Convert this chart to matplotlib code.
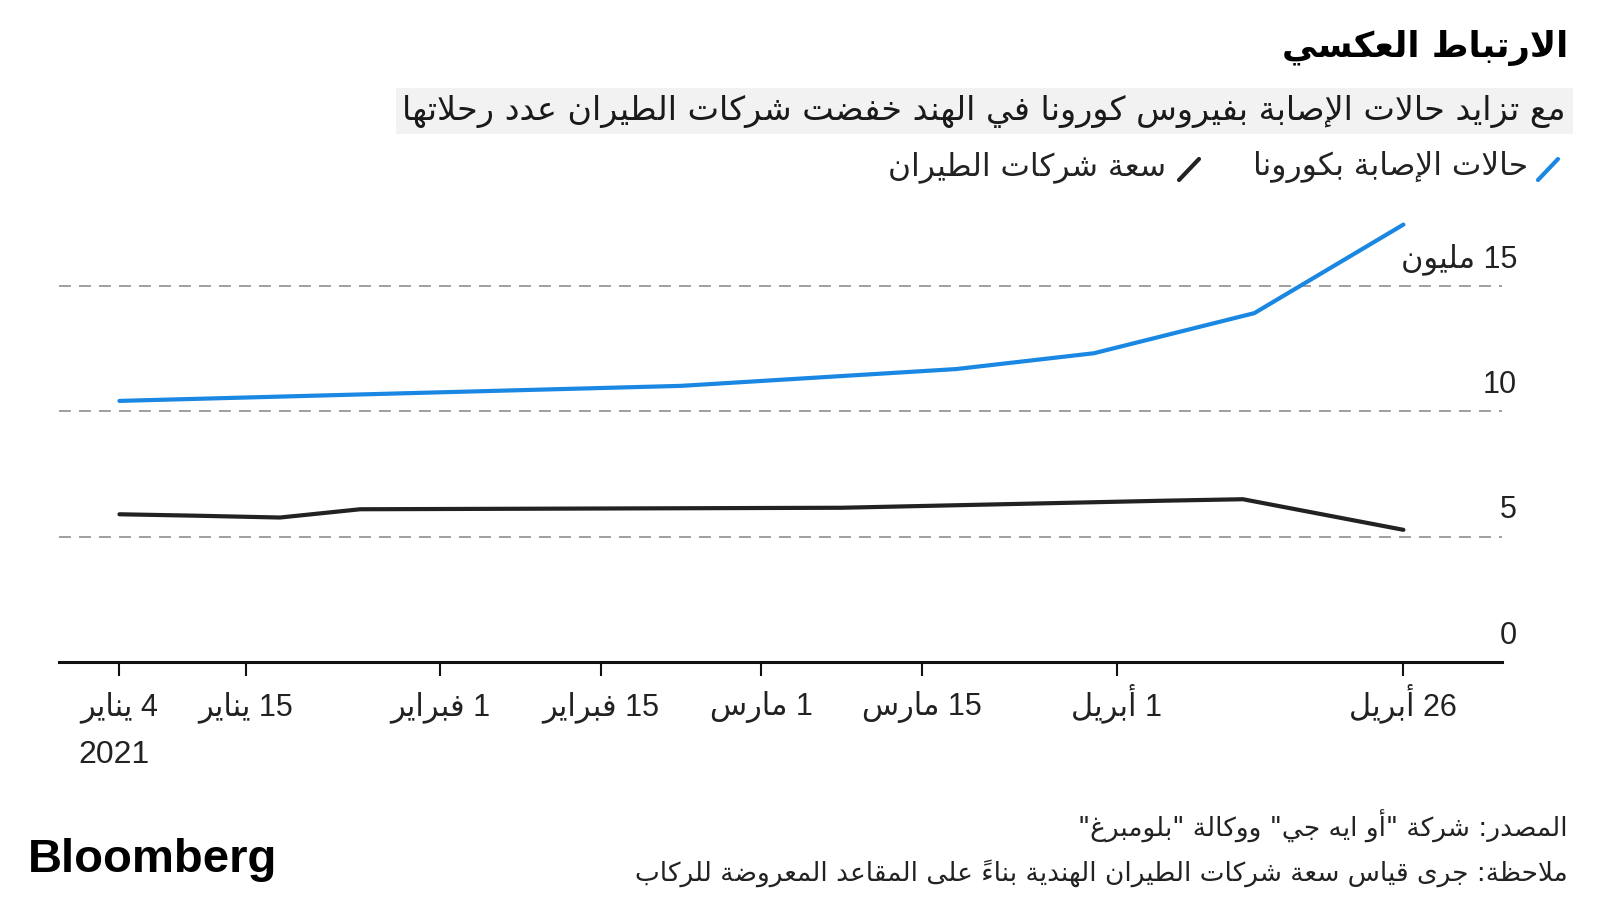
import matplotlib

matplotlib.use("Agg")
import matplotlib.pyplot as plt
import matplotlib.dates as mdates
import matplotlib.transforms as mtransforms
from matplotlib.lines import Line2D
import numpy as np

plt.rcParams.update({
    "font.family": ["DejaVu Sans"],
    "lines.scale_dashes": False,
    "axes.spines.top": False,
    "axes.spines.right": False,
    "axes.spines.left": False,
})

# ---- data ----
TITLE = "الارتباط العكسي"
SUBTITLE = "مع تزايد حالات الإصابة بفيروس كورونا في الهند خفضت شركات الطيران عدد رحلاتها"
LEGEND_CASES = "حالات الإصابة بكورونا"
LEGEND_SEATS = "سعة شركات الطيران"
SOURCE = 'المصدر: شركة "أو ايه جي" ووكالة "بلومبرغ"'
NOTE = "ملاحظة: جرى قياس سعة شركات الطيران الهندية بناءً على المقاعد المعروضة للركاب"

case_dates = ["2021-01-04", "2021-02-22", "2021-03-18", "2021-03-30", "2021-04-13", "2021-04-26"]
case_values = [10.41, 11.01, 11.68, 12.31, 13.91, 17.44]

seat_dates = ["2021-01-04", "2021-01-11", "2021-01-18", "2021-01-25", "2021-02-01",
              "2021-02-08", "2021-02-15", "2021-02-22", "2021-03-01", "2021-03-08",
              "2021-03-15", "2021-03-22", "2021-03-29", "2021-04-05", "2021-04-12",
              "2021-04-19", "2021-04-26"]
seat_values = [5.89, 5.83, 5.76, 6.09, 6.10, 6.11, 6.12, 6.13, 6.14, 6.15,
               6.22, 6.29, 6.36, 6.43, 6.49, 5.88, 5.27]

y_ticks = [0, 5, 10, 15]
y_tick_labels = ["0", "5", "10", "15 مليون"]
x_tick_dates = ["2021-01-04", "2021-01-15", "2021-02-01", "2021-02-15",
                "2021-03-01", "2021-03-15", "2021-04-01", "2021-04-26"]
x_tick_labels = ["4 يناير", "15 يناير", "1 فبراير", "15 فبراير",
                 "1 مارس", "15 مارس", "1 أبريل", "26 أبريل"]
YEAR_LABEL = "2021"

BLUE = "#1a87e2"
DARK = "#222222"
GRID = "#8f8f8f"

# ---- minimal Arabic shaping + right-to-left ordering (no raqm in matplotlib) ----
FORMS = {
    "\u0621": ("\uFE80", None, None, None),
    "\u0622": ("\uFE81", "\uFE82", None, None),
    "\u0623": ("\uFE83", "\uFE84", None, None),
    "\u0624": ("\uFE85", "\uFE86", None, None),
    "\u0625": ("\uFE87", "\uFE88", None, None),
    "\u0626": ("\uFE89", "\uFE8A", "\uFE8B", "\uFE8C"),
    "\u0627": ("\uFE8D", "\uFE8E", None, None),
    "\u0628": ("\uFE8F", "\uFE90", "\uFE91", "\uFE92"),
    "\u0629": ("\uFE93", "\uFE94", None, None),
    "\u062A": ("\uFE95", "\uFE96", "\uFE97", "\uFE98"),
    "\u062B": ("\uFE99", "\uFE9A", "\uFE9B", "\uFE9C"),
    "\u062C": ("\uFE9D", "\uFE9E", "\uFE9F", "\uFEA0"),
    "\u062D": ("\uFEA1", "\uFEA2", "\uFEA3", "\uFEA4"),
    "\u062E": ("\uFEA5", "\uFEA6", "\uFEA7", "\uFEA8"),
    "\u062F": ("\uFEA9", "\uFEAA", None, None),
    "\u0630": ("\uFEAB", "\uFEAC", None, None),
    "\u0631": ("\uFEAD", "\uFEAE", None, None),
    "\u0632": ("\uFEAF", "\uFEB0", None, None),
    "\u0633": ("\uFEB1", "\uFEB2", "\uFEB3", "\uFEB4"),
    "\u0634": ("\uFEB5", "\uFEB6", "\uFEB7", "\uFEB8"),
    "\u0635": ("\uFEB9", "\uFEBA", "\uFEBB", "\uFEBC"),
    "\u0636": ("\uFEBD", "\uFEBE", "\uFEBF", "\uFEC0"),
    "\u0637": ("\uFEC1", "\uFEC2", "\uFEC3", "\uFEC4"),
    "\u0638": ("\uFEC5", "\uFEC6", "\uFEC7", "\uFEC8"),
    "\u0639": ("\uFEC9", "\uFECA", "\uFECB", "\uFECC"),
    "\u063A": ("\uFECD", "\uFECE", "\uFECF", "\uFED0"),
    "\u0641": ("\uFED1", "\uFED2", "\uFED3", "\uFED4"),
    "\u0642": ("\uFED5", "\uFED6", "\uFED7", "\uFED8"),
    "\u0643": ("\uFED9", "\uFEDA", "\uFEDB", "\uFEDC"),
    "\u0644": ("\uFEDD", "\uFEDE", "\uFEDF", "\uFEE0"),
    "\u0645": ("\uFEE1", "\uFEE2", "\uFEE3", "\uFEE4"),
    "\u0646": ("\uFEE5", "\uFEE6", "\uFEE7", "\uFEE8"),
    "\u0647": ("\uFEE9", "\uFEEA", "\uFEEB", "\uFEEC"),
    "\u0648": ("\uFEED", "\uFEEE", None, None),
    "\u0649": ("\uFEEF", "\uFEF0", None, None),
    "\u064A": ("\uFEF1", "\uFEF2", "\uFEF3", "\uFEF4"),
}
LAM_ALEF = {
    "\u0622": ("\uFEF5", "\uFEF6"),
    "\u0623": ("\uFEF7", "\uFEF8"),
    "\u0625": ("\uFEF9", "\uFEFA"),
    "\u0627": ("\uFEFB", "\uFEFC"),
}


def rtl(text):
    clusters = []
    for c in text:
        if "\u064B" <= c <= "\u065F" and clusters:
            clusters[-1][1] += c
        else:
            clusters.append([c, ""])

    shaped = []
    prev_connects = False
    i = 0
    while i < len(clusters):
        c, marks = clusters[i]
        nxt = clusters[i + 1][0] if i + 1 < len(clusters) else None
        if c not in FORMS:
            shaped.append((c, marks))
            prev_connects = False
            i += 1
            continue
        if c == "\u0644" and nxt in LAM_ALEF:
            iso, fin = LAM_ALEF[nxt]
            shaped.append((fin if prev_connects else iso, marks + clusters[i + 1][1]))
            prev_connects = False
            i += 2
            continue
        iso, fin, ini, med = FORMS[c]
        join_prev = prev_connects and fin is not None
        join_next = ini is not None and nxt in FORMS and FORMS[nxt][1] is not None
        if join_prev and join_next:
            glyph = med
        elif join_prev:
            glyph = fin
        elif join_next:
            glyph = ini
        else:
            glyph = iso
        shaped.append((glyph, marks))
        prev_connects = join_next
        i += 1

    # visual order: reverse RTL clusters, keep digit/latin runs as they are;
    # marks go before their base so they land on top of it
    tokens = []
    for base, marks in shaped:
        if base.isascii() and base.isalnum():
            if tokens and tokens[-1][0] == "ltr":
                tokens[-1][1] += base
            else:
                tokens.append(["ltr", base])
        else:
            tokens.append(["rtl", marks + base])
    return "".join(t[1] for t in reversed(tokens))


# ---- figure ----
W, H = 1600, 900
fig = plt.figure(figsize=(16, 9), dpi=100)


def fx(px):
    return px / W


def fy(py):
    return 1 - py / H


ax = fig.add_axes([fx(59), fy(662), fx(1502) - fx(59), fy(198) - fy(662)])

start = mdates.date2num(np.datetime64("2021-01-04"))
ax.set_xlim(start - 5.27, start + 120.6)
ax.set_ylim(0, 18.5)

for v in y_ticks[1:]:
    ax.axhline(v, color=GRID, lw=1.2, dashes=(8.6, 5.8), zorder=1)

ax.plot(np.array(seat_dates, dtype="datetime64[D]"), seat_values,
        color=DARK, lw=3.0, solid_joinstyle="miter", solid_capstyle="round", zorder=3)
ax.plot(np.array(case_dates, dtype="datetime64[D]"), case_values,
        color=BLUE, lw=3.0, solid_joinstyle="miter", solid_capstyle="round", zorder=4)

ax.set_yticks([])
ax.spines["bottom"].set_linewidth(2.2)
ax.spines["bottom"].set_color("#111111")

tick_pos = mdates.date2num(np.array(x_tick_dates, dtype="datetime64[D]"))
ax.set_xticks(tick_pos)
ax.set_xticklabels([rtl(s) for s in x_tick_labels], fontsize=22, color=DARK,
                   family=["Liberation Sans", "DejaVu Sans"])
ax.tick_params(axis="x", direction="out", length=10, width=1.5, color="#111111", pad=28.5)
for lab in ax.get_xticklabels():
    lab.set_verticalalignment("baseline")

ax.annotate(YEAR_LABEL, xy=(tick_pos[0], 0), xycoords=("data", "axes fraction"),
            xytext=(-4, -67), textcoords="offset points", ha="center", va="center",
            fontsize=23, color=DARK, family=["Liberation Sans", "DejaVu Sans"])

ylab_tr = mtransforms.blended_transform_factory(fig.transFigure, ax.transData)
for v, lab in zip(y_ticks, y_tick_labels):
    ax.text(fx(1517), v + 1.05, rtl(lab), transform=ylab_tr, ha="right", va="center",
            fontsize=22, color=DARK, family=["Liberation Sans", "DejaVu Sans"])

# ---- header ----
fig.text(fx(1568), fy(48), rtl(TITLE), ha="right", va="center",
         fontsize=25.5, fontweight="bold", color="#000000")
fig.text(fx(1566), fy(111), rtl(SUBTITLE), ha="right", va="center",
         fontsize=24, color="#1a1a1a",
         bbox=dict(facecolor="#f2f2f2", edgecolor="none", boxstyle="square,pad=0.2"))

fig.add_artist(Line2D([fx(1538), fx(1558)], [fy(180), fy(159)], color=BLUE, lw=3,
                      solid_capstyle="round", transform=fig.transFigure))
fig.text(fx(1528), fy(167), rtl(LEGEND_CASES), ha="right", va="center", fontsize=22.5, color=DARK)
fig.add_artist(Line2D([fx(1179), fx(1199)], [fy(180), fy(159)], color=DARK, lw=3,
                      solid_capstyle="round", transform=fig.transFigure))
fig.text(fx(1166), fy(167), rtl(LEGEND_SEATS), ha="right", va="center", fontsize=22.5, color=DARK)

# ---- footer ----
fig.text(fx(1568), fy(826), rtl(SOURCE), ha="right", va="center", fontsize=19, color=DARK)
fig.text(fx(1568), fy(873), rtl(NOTE), ha="right", va="center", fontsize=19, color=DARK)
fig.text(fx(28), fy(860), "Bloomberg", ha="left", va="center", fontsize=34,
         fontweight="bold", family=["Liberation Sans", "DejaVu Sans"], color="#000000")

fig.savefig("out.png", dpi=100, facecolor="white")
